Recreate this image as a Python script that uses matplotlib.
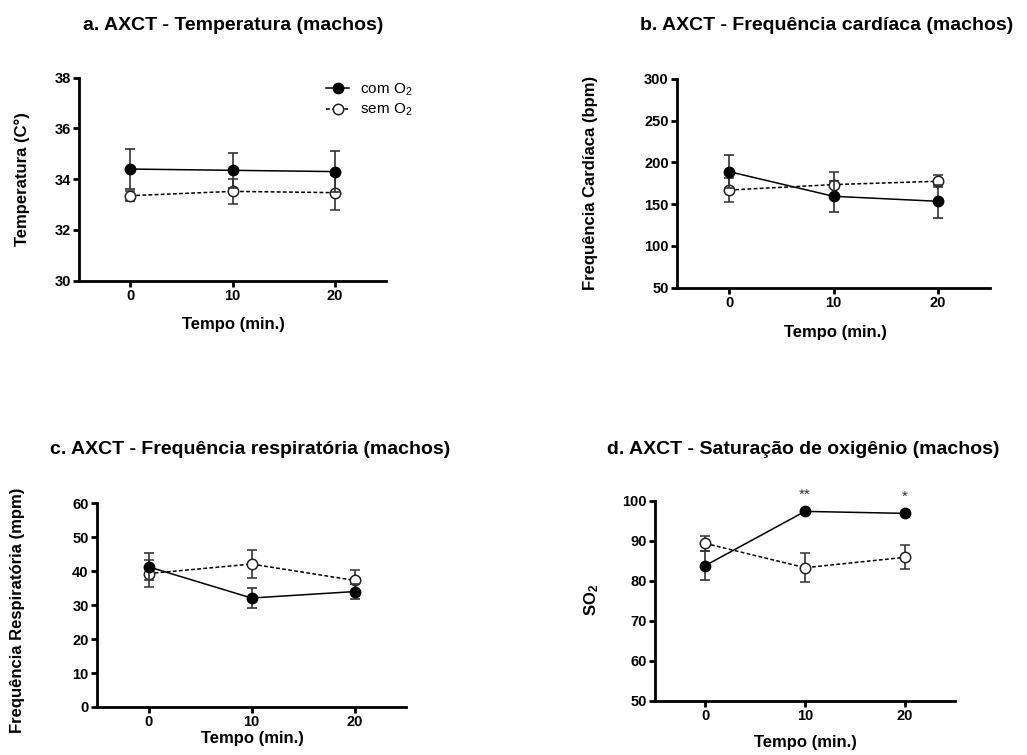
import numpy as np
import matplotlib.pyplot as plt
from matplotlib.lines import Line2D

plt.rcParams['font.family'] = ['Liberation Sans', 'DejaVu Sans']
plt.rcParams['mathtext.default'] = 'regular'

tempo = [0, 10, 20]

# a. temperatura
temp_com = [34.4, 34.35, 34.3]
temp_com_err = [0.78, 0.7, 0.8]
temp_sem = [33.35, 33.52, 33.47]
temp_sem_err = [0.2, 0.5, 0.68]

# b. frequencia cardiaca
fc_com = [189, 159.5, 153.5]
fc_com_err = [20, 18.5, 20]
fc_sem = [167, 173.5, 177.5]
fc_sem_err = [14, 15.5, 7]

# c. frequencia respiratoria
fr_com = [41.3, 32.1, 34.0]
fr_com_err = [4.0, 3.0, 2.3]
fr_sem = [39.3, 42.1, 37.3]
fr_sem_err = [3.9, 4.1, 3.0]

# d. saturacao de oxigenio
so_com = [83.8, 97.4, 96.9]
so_com_err = [3.6, 0.3, 0.4]
so_sem = [89.4, 83.3, 85.9]
so_sem_err = [1.8, 3.6, 3.0]
so_sig = ['', '**', '*']

fig = plt.figure(figsize=(10.27, 7.55), dpi=100)
W, H = 1027, 755

estilo_com = dict(color='black', linestyle='-', linewidth=1.1, marker='o',
                  markersize=7.5, markerfacecolor='black', markeredgecolor='black')
estilo_sem = dict(color='black', linestyle=(0, (2.5, 1.5)), linewidth=1.1, marker='o',
                  markersize=7.5, markerfacecolor='white', markeredgecolor='#222222',
                  markeredgewidth=1.1)

def eixo(l, r, t, b):
    return fig.add_axes([l / W, 1 - b / H, (r - l) / W, (b - t) / H])

def desenha(ax, com, com_err, sem, sem_err, ylim, yticks):
    ax.errorbar(tempo, sem, yerr=sem_err, ecolor='#333333', elinewidth=1.2,
                capsize=3.5, capthick=1.2, zorder=3, **estilo_sem)
    ax.errorbar(tempo, com, yerr=com_err, ecolor='#333333', elinewidth=1.2,
                capsize=3.5, capthick=1.2, zorder=4, **estilo_com)
    ax.set_xlim(-5, 25)
    ax.set_ylim(*ylim)
    ax.set_xticks(tempo)
    ax.set_yticks(yticks)
    for s in ['top', 'right']:
        ax.spines[s].set_visible(False)
    for s in ['left', 'bottom']:
        ax.spines[s].set_linewidth(2)
    ax.tick_params(direction='out', length=4, width=2, labelsize=10.5, pad=2)
    for lb in ax.get_xticklabels() + ax.get_yticklabels():
        lb.set_fontweight('bold')

fonte_titulo = dict(fontsize=14, fontweight='bold', ha='center', va='center')
fonte_eixo = dict(fontsize=12, fontweight='bold', ha='center', va='center')

# a
axa = eixo(79, 386, 77.7, 280.7)
desenha(axa, temp_com, temp_com_err, temp_sem, temp_sem_err, (30, 38), np.arange(30, 39, 2))
fig.text(233 / W, 1 - 25 / H, 'a. AXCT - Temperatura (machos)', **fonte_titulo)
fig.text(22 / W, 1 - 179 / H, 'Temperatura (C°)', rotation=90, **fonte_eixo)
fig.text(233 / W, 1 - 325 / H, 'Tempo (min.)', **fonte_eixo)
handles = [Line2D([], [], **estilo_com), Line2D([], [], **estilo_sem)]
fig.legend(handles, ['com O$_2$', 'sem O$_2$'], loc='upper left',
           bbox_to_anchor=(320 / W, 1 - 75 / H), frameon=False, fontsize=11,
           handlelength=1.5, handletextpad=0.7, labelspacing=0.3, borderaxespad=0)

# b
axb = eixo(677, 990, 79, 287.7)
desenha(axb, fc_com, fc_com_err, fc_sem, fc_sem_err, (50, 300), np.arange(50, 301, 50))
fig.text(827 / W, 1 - 25 / H, 'b. AXCT - Frequência cardíaca (machos)', **fonte_titulo)
fig.text(590 / W, 1 - 183 / H, 'Frequência Cardíaca (bpm)', rotation=90, **fonte_eixo)
fig.text(835 / W, 1 - 332 / H, 'Tempo (min.)', **fonte_eixo)

# c
axc = eixo(97, 406, 503.3, 707)
desenha(axc, fr_com, fr_com_err, fr_sem, fr_sem_err, (0, 60), np.arange(0, 61, 10))
fig.text(250 / W, 1 - 449 / H, 'c. AXCT - Frequência respiratória (machos)', **fonte_titulo)
fig.text(18 / W, 1 - 610 / H, 'Frequência Respiratória (mpm)', rotation=90, **fonte_eixo)
fig.text(252 / W, 1 - 739 / H, 'Tempo (min.)', **fonte_eixo)

# d
axd = eixo(655, 955, 501, 700.7)
desenha(axd, so_com, so_com_err, so_sem, so_sem_err, (50, 100), np.arange(50, 101, 10))
for x, y, e, s in zip(tempo, so_com, so_com_err, so_sig):
    axd.annotate(s, (x, y + e), xytext=(0, 6), textcoords='offset points',
                 ha='center', va='bottom', fontsize=11, color='#333333',
                 annotation_clip=False)
fig.text(803 / W, 1 - 449 / H, 'd. AXCT - Saturação de oxigênio (machos)', **fonte_titulo)
fig.text(592 / W, 1 - 600 / H, 'SO$_2$', rotation=90, **fonte_eixo)
fig.text(805 / W, 1 - 742 / H, 'Tempo (min.)', **fonte_eixo)

plt.savefig('out.png', dpi=100)
